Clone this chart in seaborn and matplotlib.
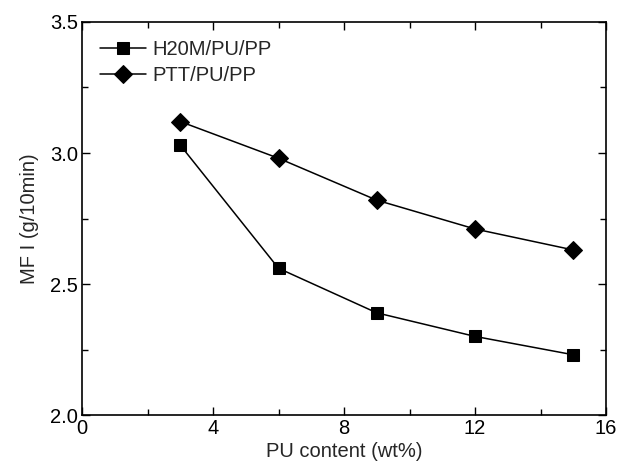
import matplotlib
matplotlib.use("Agg")
import matplotlib.pyplot as plt
import seaborn as sns
import pandas as pd
from matplotlib.ticker import MultipleLocator

pu_content = [3, 6, 9, 12, 15]
h20m_mfi = [3.03, 2.56, 2.39, 2.30, 2.23]
ptt_mfi = [3.12, 2.98, 2.82, 2.71, 2.63]
series_names = ["H20M/PU/PP", "PTT/PU/PP"]

df = pd.DataFrame({
    "x": pu_content * 2,
    "y": h20m_mfi + ptt_mfi,
    "series": [series_names[0]] * 5 + [series_names[1]] * 5,
})

sns.set_theme(style="ticks")
plt.rcParams["font.family"] = ["Liberation Sans", "DejaVu Sans"]

FS = 14.5
fig = plt.figure(figsize=(6.19, 4.66), dpi=100)
ax = fig.add_axes([0.1325, 0.1094, 0.8465, 0.8434])

sns.lineplot(data=df, x="x", y="y", hue="series", style="series",
             markers={series_names[0]: "s", series_names[1]: "D"},
             dashes=False, palette=["black", "black"], ax=ax,
             markersize=8.5, linewidth=1.1, markeredgecolor="black")
for line in ax.lines:
    if line.get_marker() == "D":
        line.set_markersize(9.5)

ax.set_xlim(0, 16)
ax.set_ylim(2.0, 3.5)
ax.xaxis.set_major_locator(MultipleLocator(4))
ax.xaxis.set_minor_locator(MultipleLocator(2))
ax.yaxis.set_major_locator(MultipleLocator(0.5))
ax.yaxis.set_minor_locator(MultipleLocator(0.25))
ax.yaxis.set_major_formatter(matplotlib.ticker.FormatStrFormatter("%.1f"))
ax.tick_params(which="both", direction="in", top=True, right=True,
               labelsize=FS, colors="black", width=1.0, pad=3)
ax.tick_params(which="major", length=6)
ax.tick_params(which="minor", length=4)
for s in ax.spines.values():
    s.set_color("black")
    s.set_linewidth(1.2)

ax.set_xlabel("PU content (wt%)", fontsize=FS, labelpad=3)
ax.set_ylabel("MF I (g/10min)", fontsize=FS, labelpad=8)

leg = ax.legend(loc="upper left", frameon=False, fontsize=FS,
                handlelength=2.3, handletextpad=0.3, borderaxespad=0.5,
                labelspacing=0.35)

fig.savefig("out.png", dpi=100)
